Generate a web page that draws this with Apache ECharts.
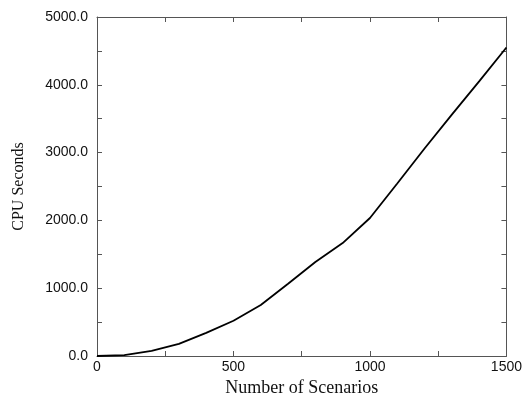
<!DOCTYPE html>
<html>
<head>
<meta charset="utf-8">
<script src="https://cdn.jsdelivr.net/npm/echarts@6/dist/echarts.min.js"></script>
<style>
html,body{margin:0;padding:0;background:#fff;}
#chart{width:525px;height:402px;}
</style>
</head>
<body>
<div id="chart"></div>
<script>
var scenarios = [0,100,200,300,400,500,600,700,800,900,1000,1100,1200,1300,1400,1500];
var cpuSeconds = [0,12,77,178,342,520,751,1065,1387,1666,2035,2545,3060,3560,4050,4550];
var xTitle = 'Number of Scenarios';
var yTitle = 'CPU Seconds';

var axisColor = '#555';
var chart = echarts.init(document.getElementById('chart'));
var data = scenarios.map(function(x,i){return [x, cpuSeconds[i]];});
var baseAxis = {
  axisLine:{show:true,onZero:false,lineStyle:{color:axisColor,width:1}},
  axisTick:{show:true,inside:true,length:5,lineStyle:{color:axisColor,width:1}},
  splitLine:{show:false}
};
chart.setOption({
  animation:false,
  backgroundColor:'#fff',
  grid:{left:97,right:18,top:17,bottom:39,containLabel:false},
  xAxis:[
    Object.assign({}, baseAxis, {
      type:'value', min:0, max:1500, interval:250, position:'bottom',
      name:xTitle, nameLocation:'middle', nameGap:23,
      nameTextStyle:{fontFamily:'Liberation Serif',fontSize:18,color:'#111'},
      axisLabel:{show:true,margin:4,fontFamily:'Liberation Sans',fontSize:14,color:'#111',
        formatter:function(v){return v%500===0?String(v):'';}}
    }),
    Object.assign({}, baseAxis, {
      type:'value', min:0, max:1500, interval:250, position:'top',
      axisLabel:{show:false}
    })
  ],
  yAxis:[
    Object.assign({}, baseAxis, {
      type:'value', min:0, max:5000, interval:500, position:'left',
      name:yTitle, nameLocation:'middle', nameGap:70, nameRotate:90,
      nameTextStyle:{fontFamily:'Liberation Serif',fontSize:16,color:'#111'},
      axisLabel:{show:true,margin:9,fontFamily:'Liberation Sans',fontSize:14,color:'#111',
        formatter:function(v){return v%1000===0?v.toFixed(1):'';}}
    }),
    Object.assign({}, baseAxis, {
      type:'value', min:0, max:5000, interval:500, position:'right',
      axisLabel:{show:false}
    })
  ],
  series:[{
    type:'line', data:data, showSymbol:false, symbol:'none',
    lineStyle:{color:'#000',width:1.8}
  }]
});
</script>
</body>
</html>
